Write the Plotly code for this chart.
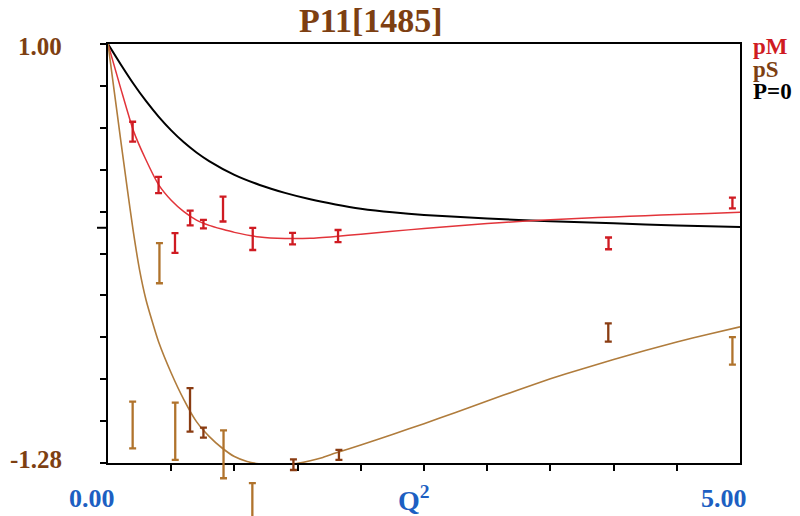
import plotly.graph_objects as go

# ---------------- data ----------------
# pM model curve (red)
pm_q = [0, 0.1, 0.2, 0.3, 0.4, 0.5, 0.6, 0.7, 0.8, 0.9, 1.0, 1.2, 1.4, 1.6, 1.8, 2.0,
        2.25, 2.5, 2.75, 3.0, 3.25, 3.5, 3.75, 4.0, 4.25, 4.5, 4.75, 5.0]
pm_v = [1.0, 0.76, 0.53, 0.37, 0.235, 0.15, 0.088, 0.042, 0.013, -0.007, -0.025, -0.05,
        -0.058, -0.057, -0.047, -0.035, -0.019, -0.004, 0.01, 0.023, 0.034, 0.044, 0.052,
        0.059, 0.066, 0.072, 0.078, 0.084]

# P=0 curve (black)
p0_q = [0, 0.1, 0.2, 0.3, 0.4, 0.5, 0.6, 0.7, 0.8, 1.0, 1.2, 1.4, 1.6, 1.8, 2.0, 2.25,
        2.5, 3.0, 3.5, 4.0, 4.5, 5.0]
p0_v = [1.0, 0.89, 0.785, 0.69, 0.605, 0.53, 0.465, 0.41, 0.363, 0.288, 0.233, 0.19,
        0.155, 0.127, 0.104, 0.084, 0.07, 0.05, 0.036, 0.024, 0.012, 0.004]

# pS model curve (brown)
ps_q = [0, 0.05, 0.1, 0.15, 0.2, 0.25, 0.3, 0.35, 0.4, 0.5, 0.6, 0.7, 0.8, 0.9, 1.0,
        1.1, 1.2, 1.3, 1.4, 1.5, 1.6, 1.7, 1.8, 2.0, 2.25, 2.5, 2.75, 3.0, 3.25, 3.5,
        3.75, 4.0, 4.25, 4.5, 4.75, 5.0]
ps_v = [1.0, 0.74, 0.48, 0.225, -0.02, -0.23, -0.39, -0.51, -0.62, -0.79, -0.935,
        -1.055, -1.135, -1.197, -1.245, -1.272, -1.285, -1.29, -1.29, -1.282, -1.268,
        -1.25, -1.226, -1.182, -1.125, -1.066, -1.005, -0.943, -0.881, -0.822, -0.768,
        -0.717, -0.668, -0.622, -0.579, -0.539]

# pM data points with errors (red)
pmd_q = [0.195, 0.40, 0.53, 0.65, 0.755, 0.91, 1.145, 1.46, 1.82, 3.96, 4.94]
pmd_v = [0.523, 0.233, -0.083, 0.053, 0.02, 0.102, -0.061, -0.059, -0.045, -0.085, 0.135]
pmd_e = [0.054, 0.044, 0.054, 0.04, 0.023, 0.068, 0.06, 0.031, 0.033, 0.032, 0.029]

# pS data points, light set (tan)
psa_q = [0.195, 0.407, 0.532, 0.914, 1.142, 4.94]
psa_v = [-1.073, -0.193, -1.107, -1.233, -1.51, -0.67]
psa_e = [0.127, 0.109, 0.156, 0.13, 0.12, 0.075]

# pS data points, dark set (dark brown)
psb_q = [0.649, 0.755, 1.467, 1.827, 3.958]
psb_v = [-0.991, -1.115, -1.289, -1.236, -0.57]
psb_e = [0.118, 0.027, 0.029, 0.027, 0.05]

# axes / labels
y_min, y_max = -1.28, 1.00
x_min, x_max = 0.0, 5.0
x_ticks = [0.5, 1.0, 1.5, 2.0, 2.5, 3.0, 3.5, 4.0, 4.5]
y_tick_step = 0.228
y_label_vals = [1.00, -1.28]
y_label_text = ["1.00", "-1.28"]
x_label_vals = [0.0, 5.0]
x_label_text = ["0.00", "5.00"]
title_text = "P11[1485]"
x_title = "Q<sup>2</sup>"
legend_names = ["pM", "pS", "P=0"]

# ---------------- style ----------------
RED_LINE = "#e2343a"
RED_BAR = "#cf1b22"
TAN = "#b07c3c"
TAN_BAR = "#b0732c"
DARK_BAR = "#8a3c12"
BROWN_TXT = "#7d3f12"
BLUE_TXT = "#1d5fc2"
SERIF = "Liberation Serif"

W, H = 800, 516
L, R = 108, 60
TOP_PX, BOT_PX = 44, 463          # pixel rows of the plot frame
PW = W - L - R

dom0 = (H - BOT_PX) / H
dom1 = (H - TOP_PX) / H
span = y_max - y_min
per_paper = span / (dom1 - dom0)
# full-height axis with identical scale (lets error bars extend below the frame)
y3_range = [y_min - dom0 * per_paper, y_max + (1 - dom1) * per_paper]
zero_pos = dom0 + (0 - y_min) / span * (dom1 - dom0)


def px_x(px):
    return (px - L) / PW


def px_y(py):
    return (H - py) / H


y_ticks = [round(y_min + k * y_tick_step, 4) for k in range(11)]

fig = go.Figure()

fig.add_trace(go.Scatter(x=p0_q, y=p0_v, mode="lines", line=dict(color="black", width=2,
                                                                  shape="spline", smoothing=0.5),
                         hoverinfo="skip"))
fig.add_trace(go.Scatter(x=pm_q, y=pm_v, mode="lines", line=dict(color=RED_LINE, width=1.5,
                                                                  shape="spline", smoothing=0.5),
                         hoverinfo="skip"))
fig.add_trace(go.Scatter(x=ps_q, y=ps_v, mode="lines", line=dict(color=TAN, width=1.6,
                                                                  shape="spline", smoothing=0.5),
                         hoverinfo="skip"))

for qs, vs, es, col in [(pmd_q, pmd_v, pmd_e, RED_BAR), (psa_q, psa_v, psa_e, TAN_BAR),
                        (psb_q, psb_v, psb_e, DARK_BAR)]:
    fig.add_trace(go.Scatter(
        x=qs, y=vs, mode="markers", yaxis="y3",
        marker=dict(size=2, color="rgba(0,0,0,0)"),
        error_y=dict(type="data", array=es, color=col, thickness=2.3, width=3.5),
        hoverinfo="skip"))

common_x = dict(range=[x_min, x_max], showgrid=False, zeroline=False, showticklabels=False,
                tickvals=x_ticks, tickcolor="black", tickwidth=2)
common_y = dict(range=[y_min, y_max], domain=[dom0, dom1], showgrid=False, zeroline=False,
                showticklabels=False, tickvals=y_ticks, tickwidth=2, tickcolor="black")
fig.update_layout(
    width=W, height=H,
    margin=dict(l=L, r=R, t=0, b=0),
    paper_bgcolor="white", plot_bgcolor="rgba(0,0,0,0)",
    showlegend=False,
    xaxis=dict(**common_x, anchor="y", showline=True, linecolor="black", linewidth=2,
               mirror=True, ticks="outside", ticklen=6),
    xaxis2=dict(**common_x, overlaying="x", anchor="y", showline=False,
                ticks="inside", ticklen=5),
    xaxis3=dict(**common_x, overlaying="x", anchor="free", position=zero_pos,
                showline=True, linecolor="black", linewidth=2, ticks="outside", ticklen=5),
    xaxis4=dict(**common_x, overlaying="x", anchor="free", position=zero_pos,
                showline=False, ticks="inside", ticklen=6),
    yaxis=dict(**common_y, anchor="x", ticks="outside", ticklen=6,
               showline=True, linecolor="black", linewidth=2, mirror=True),
    yaxis2=dict(**common_y, overlaying="y", anchor="x", ticks="inside", ticklen=7,
                showline=False),
    yaxis3=dict(range=y3_range, domain=[0, 1], anchor="x", visible=False,
                showgrid=False, zeroline=False),
)

# small left extension of the zero line
fig.add_shape(type="line", xref="paper", yref="y", x0=px_x(97), x1=0, y0=0, y1=0,
              line=dict(color="black", width=2))

ann = []
for v, t in zip(y_label_vals, y_label_text):
    ann.append(dict(x=px_x(64), xref="paper", y=v, yref="y", text=t, showarrow=False,
                    xanchor="right", yanchor="middle", yshift=-2 if v > 0 else 4,
                    font=dict(family=SERIF, size=25, color=BROWN_TXT, weight="bold")))
for v, t in zip(x_label_vals, x_label_text):
    ann.append(dict(x=v, xref="x", y=px_y(498), yref="paper", text=t, showarrow=False,
                    xanchor="center", yanchor="middle", xshift=-16,
                    font=dict(family=SERIF, size=26, color=BLUE_TXT, weight="bold")))
ann.append(dict(x=px_x(414), xref="paper", y=px_y(498), yref="paper", text=x_title,
                showarrow=False, xanchor="center", yanchor="middle",
                font=dict(family=SERIF, size=28, color=BLUE_TXT, weight="bold")))
ann.append(dict(x=px_x(371), xref="paper", y=px_y(21), yref="paper", text=title_text,
                showarrow=False, xanchor="center", yanchor="middle",
                font=dict(family=SERIF, size=34, color=BROWN_TXT, weight="bold")))
for i, (name, col) in enumerate(zip(legend_names, [RED_BAR, BROWN_TXT, "black"])):
    ann.append(dict(x=px_x(751), xref="paper", y=px_y(46 + 23 * i), yref="paper",
                    text=name, showarrow=False, xanchor="left", yanchor="middle",
                    font=dict(family=SERIF, size=23, color=col, weight="bold")))
fig.update_layout(annotations=ann)

fig.write_html("out.html", config={"displayModeBar": False},
               post_script="document.body.style.margin='0';document.body.style.overflow='hidden';")
